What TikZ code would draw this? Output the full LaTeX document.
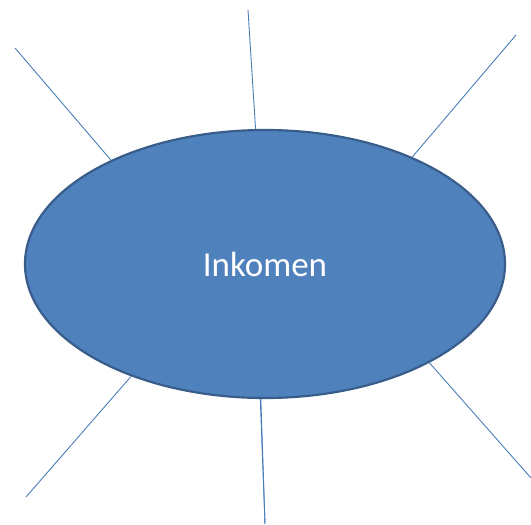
\documentclass[tikz,border=0pt]{standalone}
\usepackage{fontspec}
\setmainfont{Carlito}
\usetikzlibrary{shapes.geometric}
\definecolor{fillblue}{HTML}{4F81BD}
\definecolor{edgeblue}{HTML}{385D8A}
\definecolor{lineblue}{HTML}{4A7EBB}
\tikzset{
  bubble/.style={ellipse, draw=edgeblue, line width=2.2pt, fill=fillblue,
    minimum width=480pt, minimum height=268pt, inner sep=0pt,
    text=white, font=\fontsize{35}{40}\selectfont},
  spoke/.style={draw=lineblue, line width=0.9pt}
}
\begin{document}
\begin{tikzpicture}[x=1pt,y=-1pt]
\useasboundingbox (0,0) rectangle (531,525);
\coordinate (tl) at (15,48);
\coordinate (t) at (248,10);
\coordinate (tr) at (516,35);
\coordinate (br) at (531,478);
\coordinate (b) at (265,524);
\coordinate (bl) at (26,497);
\draw[spoke] (b) -- (260,374);
\node[bubble] (e) at (265,264) {Inkomen};
\draw[spoke] (tl) -- (e.146.3);
\draw[spoke] (t) -- (e.94.7);
\draw[spoke] (tr) -- (e.36);
\draw[spoke] (br) -- (e.-31.4);
\draw[spoke] (b) -- (e.-92.1);
\draw[spoke] (bl) -- (e.-140);
\end{tikzpicture}
\end{document}
